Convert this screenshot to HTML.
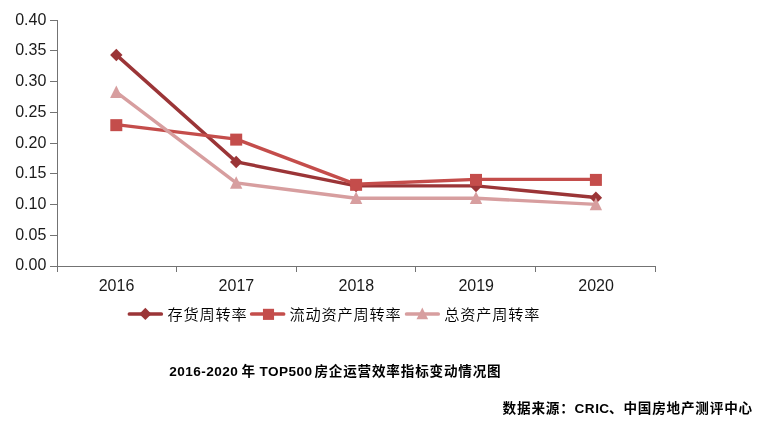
<!DOCTYPE html>
<html lang="zh-CN"><head><meta charset="utf-8"><title>2016-2020 年 TOP500 房企运营效率指标变动情况图</title>
<style>
html,body{margin:0;padding:0;background:#fff;}
body{width:766px;height:425px;overflow:hidden;position:relative;font-family:"Liberation Sans","Noto Sans CJK SC",sans-serif;}
svg{position:absolute;left:0;top:0;display:block;}
svg text{font-family:"Liberation Sans","Noto Sans CJK SC",sans-serif;}
.ax{font-size:16px;fill:#1a1a1a;}
.lg{font-size:15.2px;letter-spacing:0.8px;fill:#000;font-weight:350;}
.tt{font-size:13.6px;font-weight:bold;fill:#000;}
.tt .cj{letter-spacing:0.8px;}
.tt .la{letter-spacing:0.45px;}
</style></head><body>
<svg width="766" height="425" viewBox="0 0 766 425">
<rect width="766" height="425" fill="#fff"/>
<g fill="#737373" stroke="none" shape-rendering="crispEdges">
<rect x="57" y="20" width="1" height="252"/>
<rect x="50" y="266" width="606" height="1"/>
<rect x="50" y="235" width="7" height="1"/>
<rect x="50" y="204" width="7" height="1"/>
<rect x="50" y="173" width="7" height="1"/>
<rect x="50" y="143" width="7" height="1"/>
<rect x="50" y="112" width="7" height="1"/>
<rect x="50" y="81" width="7" height="1"/>
<rect x="50" y="50" width="7" height="1"/>
<rect x="50" y="20" width="7" height="1"/>
<rect x="176" y="266" width="1" height="6"/>
<rect x="296" y="266" width="1" height="6"/>
<rect x="415" y="266" width="1" height="6"/>
<rect x="535" y="266" width="1" height="6"/>
<rect x="655" y="266" width="1" height="6"/>
</g>
<g class="ax" text-anchor="end">
<text x="46.3" y="270">0.00</text>
<text x="46.3" y="240">0.05</text>
<text x="46.3" y="209">0.10</text>
<text x="46.3" y="178">0.15</text>
<text x="46.3" y="148">0.20</text>
<text x="46.3" y="117">0.25</text>
<text x="46.3" y="86">0.30</text>
<text x="46.3" y="55">0.35</text>
<text x="46.3" y="25">0.40</text>
</g>
<g class="ax" text-anchor="middle">
<text x="116.50" y="291.4">2016</text>
<text x="236.40" y="291.4">2017</text>
<text x="356.30" y="291.4">2018</text>
<text x="476.20" y="291.4">2019</text>
<text x="596.10" y="291.4">2020</text>
</g>
<g fill="#9B3537" stroke="none">
<polyline points="116.30,54.86 236.20,161.87 356.10,185.85 476.00,185.85 595.90,197.54" fill="none" stroke="#9B3537" stroke-width="3.4" stroke-linecap="round" stroke-linejoin="round"/>
<path d="M116.30 48.86L122.50 55.06L116.30 61.26L110.10 55.06Z"/>
<path d="M236.20 155.87L242.40 162.06L236.20 168.26L230.00 162.06Z"/>
<path d="M356.10 179.85L362.30 186.05L356.10 192.25L349.90 186.05Z"/>
<path d="M476.00 179.85L482.20 186.05L476.00 192.25L469.80 186.05Z"/>
<path d="M595.90 191.54L602.10 197.74L595.90 203.94L589.70 197.74Z"/>
</g>
<g fill="#C44D4B" stroke="none">
<polyline points="116.30,124.66 236.20,139.12 356.10,184.32 476.00,179.40 595.90,179.40" fill="none" stroke="#C44D4B" stroke-width="3.4" stroke-linecap="round" stroke-linejoin="round"/>
<rect x="110.30" y="119.16" width="12" height="12"/>
<rect x="230.20" y="133.62" width="12" height="12"/>
<rect x="350.10" y="178.82" width="12" height="12"/>
<rect x="470.00" y="173.90" width="12" height="12"/>
<rect x="589.90" y="173.90" width="12" height="12"/>
</g>
<g fill="#D79E9F" stroke="none">
<polyline points="116.30,92.16 236.20,182.88 356.10,198.25 476.00,198.25 595.90,204.40" fill="none" stroke="#D79E9F" stroke-width="3.4" stroke-linecap="round" stroke-linejoin="round"/>
<path d="M116.30 85.46L122.50 97.96L110.10 97.96Z"/>
<path d="M236.20 176.18L242.40 188.68L230.00 188.68Z"/>
<path d="M356.10 191.55L362.30 204.05L349.90 204.05Z"/>
<path d="M476.00 191.55L482.20 204.05L469.80 204.05Z"/>
<path d="M595.90 197.70L602.10 210.20L589.70 210.20Z"/>
</g>
<g fill="#9B3537"><line x1="129.4" y1="314.0" x2="161.3" y2="314.0" stroke="#9B3537" stroke-width="3.7" stroke-linecap="round"/>
<path d="M145.35 307.80L151.45 313.90L145.35 320.00L139.25 313.90Z"/>
</g>
<text class="lg" x="167.6" y="320.2">存货周转率</text>
<g fill="#C44D4B"><line x1="251.7" y1="314.0" x2="283.6" y2="314.0" stroke="#C44D4B" stroke-width="3.7" stroke-linecap="round"/>
<rect x="262.95" y="308.80" width="11.1" height="11.1"/>
</g>
<text class="lg" x="289.6" y="320.2">流动资产周转率</text>
<g fill="#D79E9F"><line x1="406.6" y1="314.0" x2="438.2" y2="314.0" stroke="#D79E9F" stroke-width="3.7" stroke-linecap="round"/>
<path d="M422.30 307.60L428.10 319.30L416.50 319.30Z"/>
</g>
<text class="lg" x="444.3" y="320.2">总资产周转率</text>
<text class="tt" y="376"><tspan class="la" x="169.3">2016-2020 </tspan><tspan class="cj" x="241.4">年 </tspan><tspan class="la" x="259.4">TOP500 </tspan><tspan class="cj" x="314.4">房企运营效率指标变动情况图</tspan></text>
<text class="tt" y="412.6"><tspan class="cj" x="502.6">数据来源：</tspan><tspan class="la" x="574.6">CRIC</tspan><tspan class="cj" x="609.0">、中国房地产测评中心</tspan></text>
</svg>
</body></html>
